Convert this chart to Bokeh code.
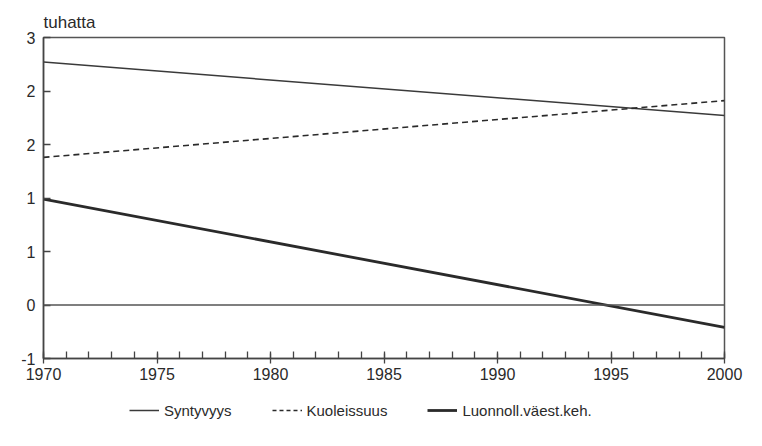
from bokeh.plotting import figure
from bokeh.layouts import column
from bokeh.models import (FixedTicker, Range1d, Legend, LegendItem, Span, ColumnDataSource)
from bokeh.embed import file_html
from bokeh.resources import INLINE

# ---- data (thousands) ----
years = [1970, 2000]
syntyvyys = [2.27, 1.77]
kuolleisuus = [1.38, 1.91]
luonnoll = [0.99, -0.21]

y_ticks = [-0.5, 0, 0.5, 1.0, 1.5, 2.0, 2.5]
y_tick_labels = ["-1", "0", "1", "1", "2", "2", "3"]
x_major = [1970, 1975, 1980, 1985, 1990, 1995, 2000]
x_minor = list(range(1970, 2001))
legend_labels = ["Syntyvyys", "Kuoleissuus", "Luonnoll.väest.keh."]
unit_label = "tuhatta"

FONT = "Liberation Sans"
INK = "#2a2a2a"
FRAME = "#555555"

p = figure(width=746, height=392, output_backend="svg", toolbar_location=None,
           x_range=Range1d(1970, 2000), y_range=Range1d(-0.5, 2.5),
           min_border_left=43, min_border_right=22, min_border_top=37,
           min_border_bottom=34, title=unit_label)
p.background_fill_color = "white"
p.border_fill_color = "white"
p.grid.visible = False
p.outline_line_color = FRAME
p.outline_line_width = 1.5

p.title.text_font = FONT
p.title.text_font_size = "17px"
p.title.text_font_style = "normal"
p.title.text_color = INK
p.title.align = "left"
p.title.standoff = 11
p.title.offset = 0

# axes
xa = p.xaxis[0]
xa.ticker = FixedTicker(ticks=x_major, minor_ticks=x_minor)
xa.major_tick_in = 5
xa.major_tick_out = 5
xa.minor_tick_in = 7
xa.minor_tick_out = 0
ya = p.yaxis[0]
ya.ticker = FixedTicker(ticks=y_ticks)
ya.major_label_overrides = {t: l for t, l in zip(y_ticks, y_tick_labels)}
ya.major_tick_in = 7
ya.major_tick_out = 0
ya.minor_tick_in = 0
ya.minor_tick_out = 0
for ax in (xa, ya):
    ax.axis_line_color = "#444444"
    ax.axis_line_width = 1.5
    ax.major_tick_line_color = "#444444"
    ax.major_tick_line_width = 1.3
    ax.minor_tick_line_color = "#444444"
    ax.minor_tick_line_width = 1.3
    ax.major_label_text_font = FONT
    ax.major_label_text_font_size = "16px"
    ax.major_label_text_color = INK
xa.major_label_standoff = 4
ya.major_label_standoff = 8

# zero line
p.add_layout(Span(location=0, dimension="width", line_color="#555555", line_width=1.5))

src = ColumnDataSource(dict(x=years, b=syntyvyys, d=kuolleisuus, n=luonnoll))
p.line("x", "b", source=src, line_color="#3a3a3a", line_width=1.5)
p.line("x", "d", source=src, line_color=INK, line_width=1.6, line_dash="6 4")
p.line("x", "n", source=src, line_color=INK, line_width=2.8)

# ---- legend strip below the chart (its lines lie outside its view; only the key shows) ----
lg = figure(width=746, height=38, output_backend="svg", toolbar_location=None,
            x_axis_type=None, y_axis_type=None, min_border=0,
            x_range=Range1d(0, 1), y_range=Range1d(0, 1))
lg.grid.visible = False
lg.outline_line_color = None
lg.background_fill_color = "white"
lg.border_fill_color = "white"
k1 = lg.line("x", "b", source=src, line_color="#3a3a3a", line_width=1.5)
k2 = lg.line("x", "d", source=src, line_color=INK, line_width=1.6, line_dash="4 3")
k3 = lg.line("x", "n", source=src, line_color=INK, line_width=2.8)

legend = Legend(items=[LegendItem(label=legend_labels[0], renderers=[k1]),
                       LegendItem(label=legend_labels[1], renderers=[k2]),
                       LegendItem(label=legend_labels[2], renderers=[k3])],
                orientation="horizontal", location=(86, 10),
                label_text_font=FONT, label_text_font_size="15px",
                label_text_color=INK, glyph_width=30, label_standoff=5,
                spacing=40, padding=4, margin=0, border_line_color=None,
                background_fill_alpha=0)
lg.add_layout(legend, "center")

open("out.html", "w").write(file_html(column(p, lg, spacing=0), INLINE))
